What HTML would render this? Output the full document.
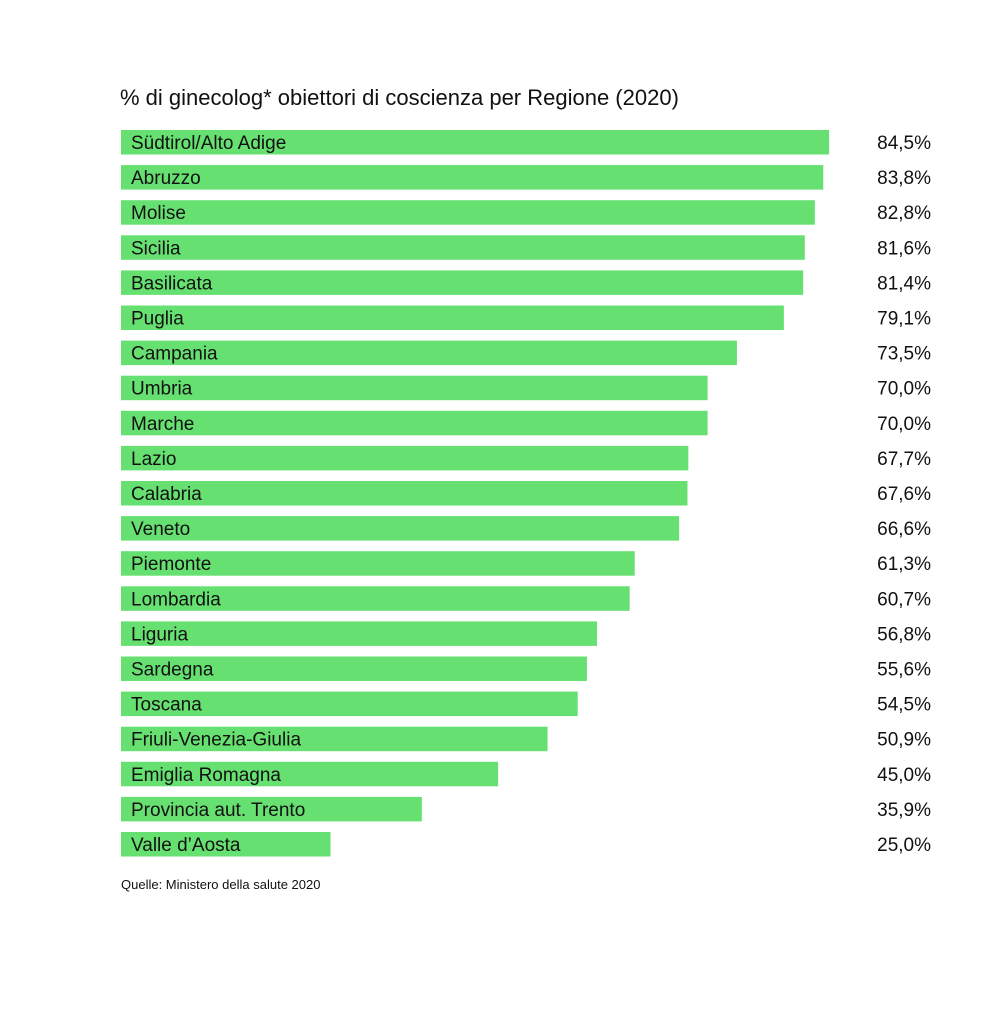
<!DOCTYPE html>
<html><head><meta charset="utf-8"><style>
body{margin:0;background:#fff;font-family:"Liberation Sans",sans-serif;}
#c{position:relative;width:990px;height:1024px;}
</style></head><body>
<div id="c">
<svg width="990" height="1024">
<text x="120" y="105" font-size="22" fill="#111">% di ginecolog* obiettori di coscienza per Regione (2020)</text>
<g id="bars"></g>
<text x="121" y="889" font-size="13" fill="#111">Quelle: Ministero della salute 2020</text>
</svg>
</div>
<script>
const regions=["Südtirol/Alto Adige","Abruzzo","Molise","Sicilia","Basilicata","Puglia","Campania","Umbria","Marche","Lazio","Calabria","Veneto","Piemonte","Lombardia","Liguria","Sardegna","Toscana","Friuli-Venezia-Giulia","Emiglia Romagna","Provincia aut. Trento","Valle d’Aosta"];
const values=[84.5,83.8,82.8,81.6,81.4,79.1,73.5,70.0,70.0,67.7,67.6,66.6,61.3,60.7,56.8,55.6,54.5,50.9,45.0,35.9,25.0];
const ns="http://www.w3.org/2000/svg";
const x=v=>v*8.38;
const y=i=>130+i*35.1;
const g=document.getElementById('bars');
regions.forEach((r,i)=>{
  const rect=document.createElementNS(ns,'rect');
  
  
  rect.setAttribute('x',121);rect.setAttribute('y',y(i));
  rect.setAttribute('width',x(values[i]));rect.setAttribute('height',24.5);
  rect.setAttribute('fill','#66e070');
  g.appendChild(rect);
  const t=document.createElementNS(ns,'text');
  
  
  t.setAttribute('x',131);t.setAttribute('y',y(i)+19);
  t.setAttribute('font-size','19');t.setAttribute('fill','#111');
  t.textContent=r;g.appendChild(t);
  const v=document.createElementNS(ns,'text');
  
  
  v.setAttribute('x',931);v.setAttribute('y',y(i)+19);
  v.setAttribute('text-anchor','end');
  v.setAttribute('font-size','19');v.setAttribute('fill','#111');
  v.textContent=values[i].toFixed(1).replace('.',',')+'%';g.appendChild(v);
});
</script>
</body></html>
